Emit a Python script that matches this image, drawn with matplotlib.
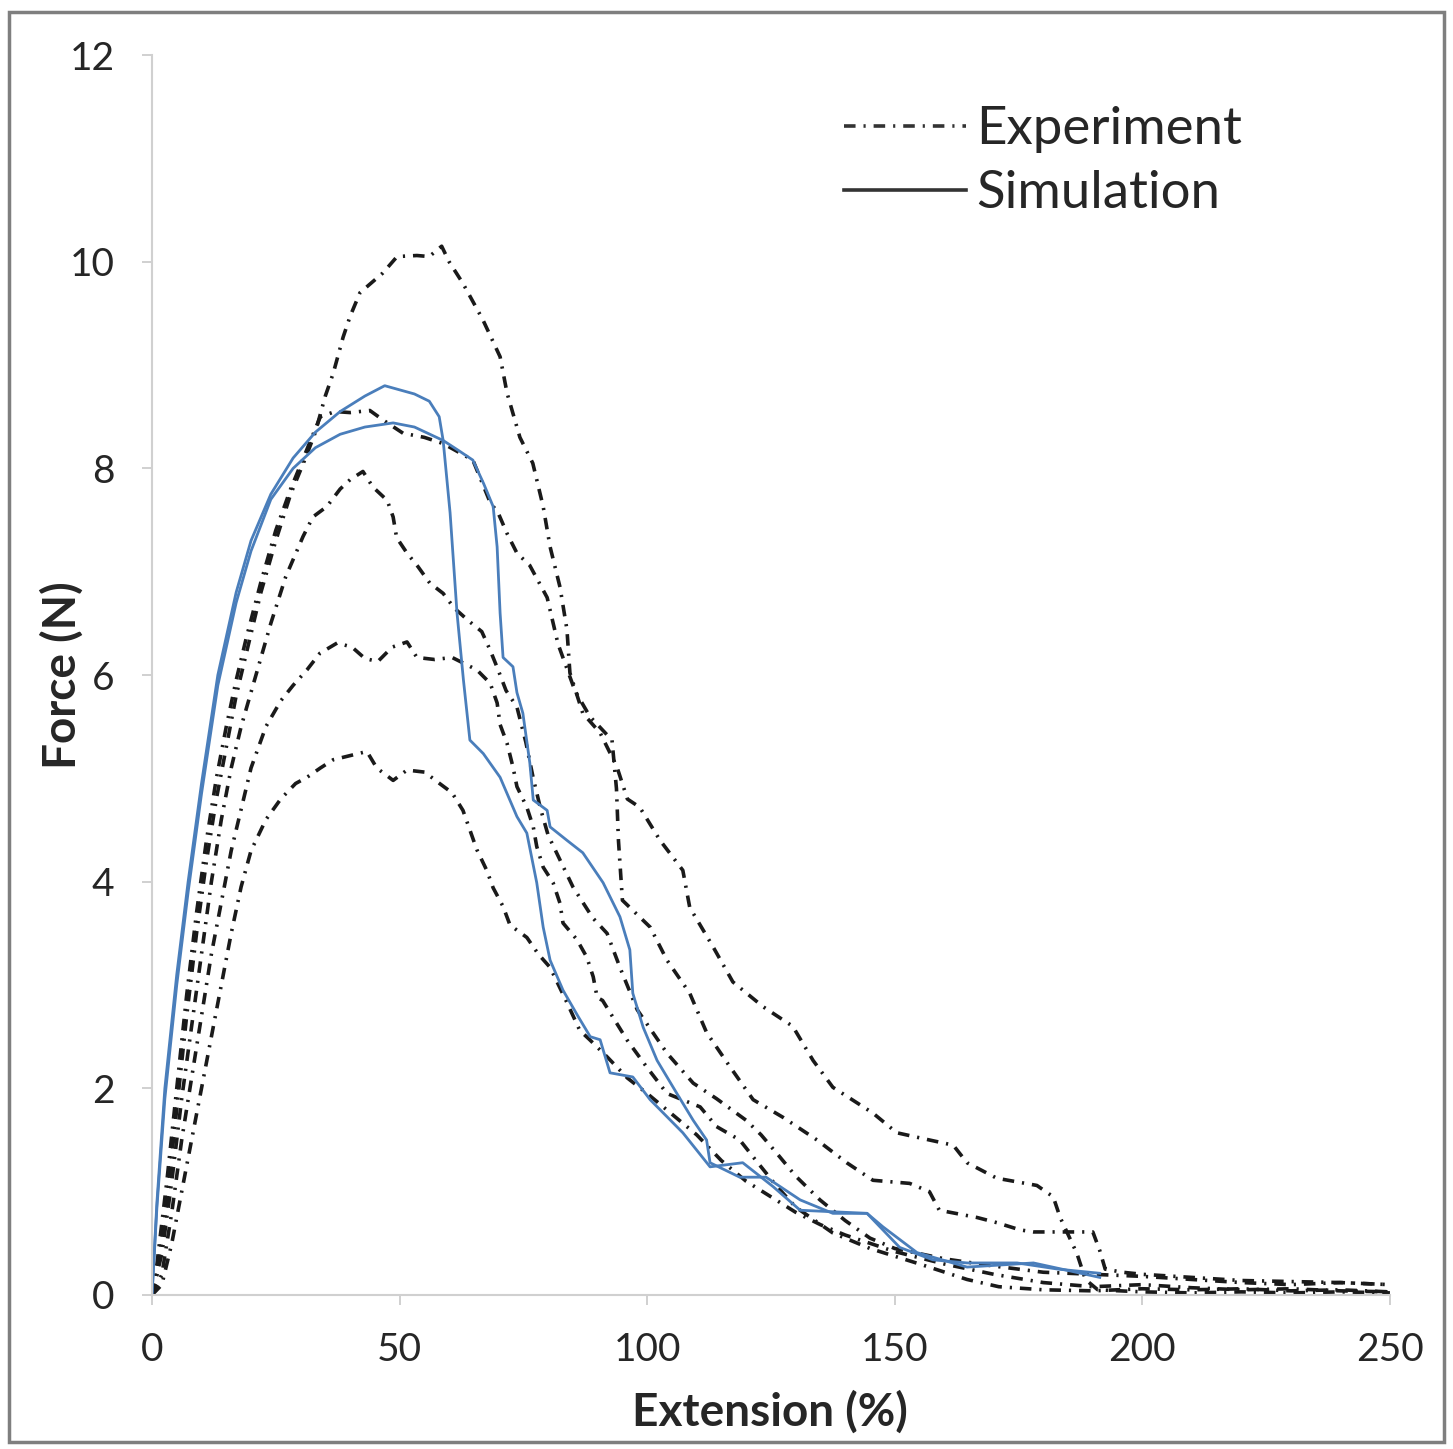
import matplotlib.pyplot as plt
from matplotlib.lines import Line2D
from matplotlib.patches import Rectangle

plt.rcParams['font.family'] = ['Lato', 'DejaVu Sans']

# Experiment curves (extension %, force N)
e1_x = [0, 1, 3, 5, 7, 9, 11, 13, 15, 17, 19, 22, 25, 28, 31, 33, 35, 36.6, 38.6, 40, 42, 46.6, 49.5,
        53.5, 56, 58.5, 60, 62.8, 66.8, 70.3, 71.7, 74.3, 76.9, 79, 80.4, 82.4, 83.8, 84.4, 87, 90.5,
        93.9, 96, 98.5, 102.6, 107.2, 108.6, 113.3, 117.3, 123.4, 129.4, 133.5, 137.5, 145.6, 150.4,
        157, 161.8, 164.6, 170.6, 178.7, 182, 183.4, 186.8, 188.5, 191, 200, 210, 220, 230, 240, 250]
e1_y = [0, 0.2, 0.9, 1.8, 2.7, 3.5, 4.2, 4.8, 5.3, 5.8, 6.2, 6.8, 7.3, 7.75, 8.1, 8.35, 8.7, 8.92, 9.27,
        9.47, 9.7, 9.89, 10.05, 10.06, 10.05, 10.15, 10.0, 9.79, 9.44, 9.08, 8.73, 8.3, 8.05, 7.63, 7.24,
        6.85, 6.44, 6.02, 5.63, 5.44, 5.11, 4.8, 4.72, 4.4, 4.11, 3.75, 3.37, 3.03, 2.79, 2.6, 2.27, 2.01,
        1.76, 1.57, 1.5, 1.45, 1.28, 1.13, 1.06, 0.95, 0.75, 0.4, 0.15, 0.05, 0.03, 0.02, 0.03, 0.02,
        0.03, 0.02]

e2_x = [0, 1, 3, 5, 7, 9, 11, 13, 15, 17, 19, 22, 25, 28, 31, 34, 37, 40, 44, 46.6, 50.7, 55, 58.8,
        64.8, 68.3, 69.9, 71.7, 73.7, 76.3, 79.8, 82, 85.4, 88.4, 92.9, 93.8, 94.2, 95, 100.6, 104,
        108.6, 112, 116.7, 121.4, 127.4, 134.3, 140.3, 145.6, 153, 157, 159, 166.6, 170.6, 175.3, 178,
        186, 190, 191.4, 192.5, 196, 200, 210, 220, 230, 240, 250]
e2_y = [0, 0.3, 1.1, 2.0, 2.9, 3.7, 4.4, 5.0, 5.5, 5.95, 6.35, 6.9, 7.4, 7.8, 8.15, 8.5, 8.55, 8.54,
        8.56, 8.47, 8.34, 8.3, 8.24, 8.08, 7.67, 7.57, 7.37, 7.18, 7.06, 6.75, 6.3, 5.85, 5.6, 5.37, 4.9,
        4.4, 3.82, 3.56, 3.24, 2.92, 2.54, 2.21, 1.89, 1.72, 1.5, 1.28, 1.11, 1.08, 1.0, 0.82, 0.75, 0.7,
        0.63, 0.61, 0.61, 0.61, 0.43, 0.25, 0.22, 0.2, 0.17, 0.14, 0.13, 0.12, 0.1]

e3_x = [0, 2, 4, 6, 8, 10, 12, 14, 16, 18, 21, 24, 27, 30.5, 32.5, 35.3, 38, 40, 42.6, 44.6, 47.5,
        48.7, 49.4, 51.5, 53.7, 56.1, 58.8, 61, 63.8, 66.6, 68.3, 69.9, 71.5, 73.7, 75.5, 77, 78.5, 80,
        82.5, 85, 87, 89, 91.9, 94.5, 98, 104, 109.3, 114, 120, 123, 126.2, 130, 134.9, 140, 145, 150,
        160, 170, 180, 190, 200, 210, 220, 230, 240, 250]
e3_y = [0, 0.4, 1.1, 1.9, 2.6, 3.3, 4.0, 4.6, 5.1, 5.5, 6.0, 6.5, 6.95, 7.34, 7.53, 7.63, 7.8, 7.89,
        7.97, 7.82, 7.69, 7.53, 7.33, 7.18, 7.05, 6.89, 6.79, 6.65, 6.53, 6.42, 6.24, 6.05, 5.85, 5.69,
        5.35, 5.0, 4.7, 4.45, 4.2, 3.95, 3.8, 3.65, 3.5, 3.17, 2.76, 2.34, 2.05, 1.9, 1.69, 1.55, 1.37,
        1.15, 0.92, 0.72, 0.55, 0.45, 0.35, 0.28, 0.22, 0.2, 0.18, 0.15, 0.12, 0.1, 0.12, 0.1]

e4_x = [0, 2, 4, 6, 8, 10, 12, 14, 16, 18, 20, 23, 26, 28.5, 31.3, 33.9, 37.4, 40.4, 43, 45.6, 48.5,
        51.5, 53.5, 57.1, 60.6, 65.6, 68.3, 69.7, 70.3, 71.7, 72.9, 73.7, 75.7, 77, 77.7, 79, 81, 82.4,
        83, 85.8, 87.8, 89.1, 89.9, 91, 95.9, 100, 104, 110.7, 114, 118.7, 122, 126.2, 130, 137.5, 145,
        155, 164.6, 171, 180, 190, 200, 210, 220, 230, 240, 250]
e4_y = [0, 0.2, 0.8, 1.5, 2.1, 2.7, 3.3, 3.8, 4.3, 4.7, 5.1, 5.5, 5.75, 5.9, 6.05, 6.21, 6.31, 6.27,
        6.16, 6.13, 6.27, 6.32, 6.17, 6.15, 6.17, 6.05, 5.92, 5.73, 5.52, 5.34, 5.11, 4.92, 4.72, 4.53,
        4.34, 4.14, 3.99, 3.79, 3.6, 3.44, 3.27, 3.08, 2.88, 2.85, 2.47, 2.2, 1.95, 1.82, 1.63, 1.5, 1.3,
        1.05, 0.85, 0.6, 0.45, 0.3, 0.15, 0.08, 0.05, 0.04, 0.06, 0.05, 0.06, 0.04, 0.05, 0.03]

e5_x = [0, 2, 4, 6, 8, 10, 12, 14, 16, 18, 20, 23, 26, 29, 31.3, 34, 36.6, 40, 43.4, 45.4, 48.7, 51.5,
        55.1, 57.8, 60.6, 62.8, 64.2, 65.6, 67.6, 68.9, 70.9, 72.3, 75.7, 78, 80.4, 83.8, 86.4, 88.4,
        92, 96, 100, 105, 110, 115, 120, 125, 130, 135, 140, 150, 160, 170, 180, 190, 200, 210, 220,
        230, 240, 250]
e5_y = [0, 0.1, 0.5, 1.0, 1.5, 2.0, 2.5, 3.0, 3.5, 3.95, 4.3, 4.6, 4.8, 4.95, 5.01, 5.1, 5.18, 5.22,
        5.26, 5.1, 4.98, 5.08, 5.06, 4.96, 4.86, 4.69, 4.5, 4.31, 4.11, 3.94, 3.76, 3.58, 3.46, 3.3,
        3.17, 2.83, 2.56, 2.47, 2.3, 2.1, 1.95, 1.75, 1.55, 1.3, 1.1, 0.95, 0.8, 0.68, 0.58, 0.42, 0.3,
        0.2, 0.12, 0.08, 0.1, 0.07, 0.05, 0.06, 0.04, 0.03]

# Simulation curves
sa_x = [0, 1, 2.6, 5, 7.3, 10, 13.3, 17, 20, 24, 28.5, 33, 38, 43, 47, 50, 53, 56, 58, 58.8, 60.2,
        61.6, 62.9, 64.2, 66.9, 70.3, 73.7, 75.7, 77.7, 79, 80.4, 83, 86, 88.5, 90.5, 92.5, 97.1,
        100.6, 107.2, 112.7, 119.3, 125.4, 130.9, 144.4, 151, 157.7, 164.6, 174.7, 183, 191.4]
sa_y = [0, 0.9, 2.0, 3.1, 4.0, 4.95, 6.0, 6.8, 7.3, 7.75, 8.1, 8.35, 8.55, 8.7, 8.8, 8.76, 8.72,
        8.65, 8.5, 8.27, 7.57, 6.6, 5.95, 5.37, 5.24, 5.01, 4.63, 4.47, 3.99, 3.56, 3.24, 2.95, 2.7,
        2.5, 2.47, 2.15, 2.11, 1.89, 1.57, 1.24, 1.28, 1.05, 0.82, 0.79, 0.46, 0.34, 0.31, 0.31, 0.25,
        0.21]

sb_x = [0, 1, 2.6, 5, 7.3, 10, 13.3, 17, 20, 24, 28.5, 33, 38, 43, 48.7, 53, 58.8, 62, 64.8, 67,
        68.9, 69.7, 70.3, 70.9, 72.9, 73.7, 74.9, 76.3, 77, 79.8, 80.4, 83.8, 87, 91.1, 94.5, 96.5,
        97.1, 99.2, 102, 106, 109.3, 112, 112.7, 118.7, 124, 130.9, 137.5, 144.4, 147.6, 154.5,
        164.6, 178, 191.4]
sb_y = [0, 0.85, 1.9, 3.0, 3.9, 4.85, 5.9, 6.7, 7.2, 7.7, 8.0, 8.2, 8.33, 8.4, 8.44, 8.4, 8.27,
        8.17, 8.08, 7.85, 7.63, 7.24, 6.6, 6.17, 6.08, 5.83, 5.63, 5.15, 4.79, 4.69, 4.53, 4.4, 4.28,
        3.99, 3.66, 3.34, 2.92, 2.59, 2.27, 1.95, 1.69, 1.5, 1.28, 1.14, 1.14, 0.92, 0.79, 0.79, 0.66,
        0.41, 0.27, 0.31, 0.17]

exp_curves = [(e1_x, e1_y), (e2_x, e2_y), (e3_x, e3_y), (e4_x, e4_y), (e5_x, e5_y)]
sim_curves = [(sa_x, sa_y), (sb_x, sb_y)]

dashdot = (0, (3.2, 2.2, 0.6, 2.2))
blue = '#4a7ebb'
text_col = '#262626'

fig = plt.figure(figsize=(14.53, 14.49), dpi=100)
ax = fig.add_axes([0.1046, 0.1063, 0.852, 0.8557])

for x, y in exp_curves:
    ax.plot(x, y, color='#1a1a1a', lw=2.6, linestyle=dashdot)
for x, y in sim_curves:
    ax.plot(x, y, color=blue, lw=2.0)

ax.set_xlim(0, 250)
ax.set_ylim(0, 12)
ax.set_xticks(range(0, 251, 50))
ax.set_yticks(range(0, 13, 2))

for side in ['top', 'right']:
    ax.spines[side].set_visible(False)
for side in ['left', 'bottom']:
    ax.spines[side].set_color('#d0d0d0')
    ax.spines[side].set_linewidth(1.5)
ax.tick_params(direction='out', length=7, width=1.2, color='#c8c8c8',
               labelsize=28, labelcolor=text_col)
ax.tick_params(axis='x', pad=20)
ax.tick_params(axis='y', pad=20)

ax.set_xlabel('Extension (%)', fontsize=33, fontweight='bold', color=text_col, va='top')
ax.set_ylabel('Force (N)', fontsize=33, fontweight='bold', color=text_col)
ax.xaxis.set_label_coords(0.4995, -0.077)
ax.yaxis.set_label_coords(-0.055, 0.5)

handles = [Line2D([], [], color='#333333', lw=2.6, linestyle=dashdot),
           Line2D([], [], color='#333333', lw=2.6)]
ax.legend(handles, ['Experiment', 'Simulation'], loc='upper left', bbox_to_anchor=(0.521, 0.997),
          frameon=False, fontsize=38, handlelength=2.3, handletextpad=0.2, labelspacing=0.32,
          labelcolor=text_col)

# grey frame round the whole picture
fig.patches.append(Rectangle((0.006, 0.005), 0.988, 0.987, transform=fig.transFigure,
                             fill=False, edgecolor='#7f7f7f', lw=2.5))

fig.savefig('out.png', dpi=100)
